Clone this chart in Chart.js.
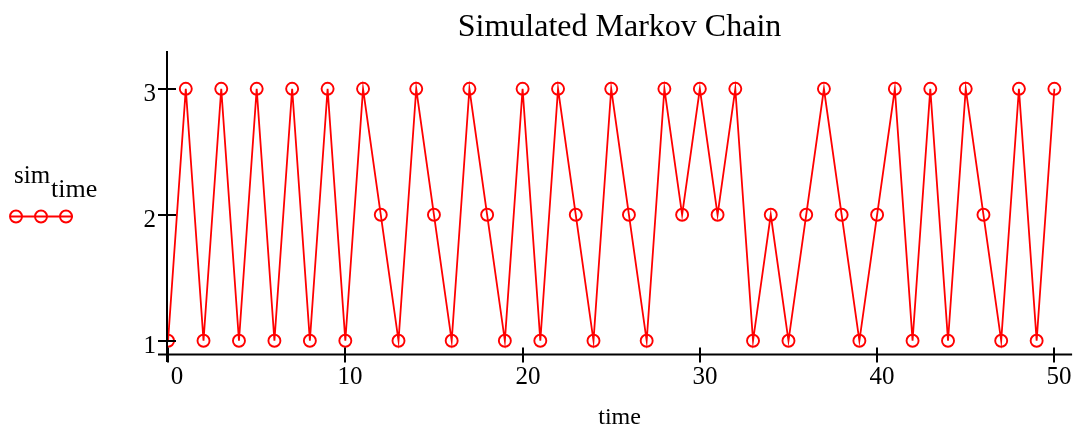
<!DOCTYPE html>
<html>
<head>
<meta charset="utf-8">
<script src="https://cdn.jsdelivr.net/npm/chart.js@4/dist/chart.umd.min.js"></script>
<style>
html,body{margin:0;padding:0;background:#fff;}
#wrap{width:1080px;height:430px;}
</style>
</head>
<body>
<div id="wrap"><canvas id="c" width="1080" height="430"></canvas></div>
<script>
const timeSteps = [0,1,2,3,4,5,6,7,8,9,10,11,12,13,14,15,16,17,18,19,20,21,22,23,24,25,26,27,28,29,30,31,32,33,34,35,36,37,38,39,40,41,42,43,44,45,46,47,48,49,50];
const simValues = [1,3,1,3,1,3,1,3,1,3,1,3,2,1,3,2,1,3,2,1,3,1,3,2,1,3,2,1,3,2,3,2,3,1,2,1,2,3,2,1,2,3,1,3,1,3,2,1,3,1,3];
const xTicks = [0,10,20,30,40,50];
const yTicks = [1,2,3];
const chartTitle = 'Simulated Markov Chain';
const xTitle = 'time';
const legendMain = 'sim';
const legendSub = 'time';

const FONT = '"Liberation Serif", "Times New Roman", serif';
const RED = '#ff0000';

const points = timeSteps.map((t, i) => ({x: t, y: simValues[i]}));

const decor = {
  id: 'decor',
  afterDraw(chart) {
    const ctx = chart.ctx;
    const ca = chart.chartArea;
    const xs = chart.scales.x, ys = chart.scales.y;
    ctx.save();
    // axes
    ctx.strokeStyle = '#000';
    ctx.lineWidth = 2;
    const x0 = Math.round(ca.left) ;
    const yb = Math.round(ca.bottom) + 0.5;
    ctx.beginPath();
    ctx.moveTo(x0, ca.top);
    ctx.lineTo(x0, ca.bottom + 8);
    ctx.moveTo(ca.left - 9, yb);
    ctx.lineTo(ca.right, yb);
    ctx.stroke();
    // y ticks
    ctx.fillStyle = '#000';
    ctx.font = '25px ' + FONT;
    ctx.textAlign = 'right';
    ctx.textBaseline = 'alphabetic';
    yTicks.forEach(v => {
      const py = Math.round(ys.getPixelForValue(v));
      ctx.beginPath();
      ctx.moveTo(x0 - 9, py);
      ctx.lineTo(x0 + 9, py);
      ctx.stroke();
      ctx.fillText(String(v), x0 - 11, py + 12);
    });
    // x ticks
    ctx.textAlign = 'center';
    xTicks.forEach(v => {
      const px = Math.round(xs.getPixelForValue(v));
      ctx.beginPath();
      ctx.moveTo(px, yb - 7);
      ctx.lineTo(px, yb + 8);
      ctx.stroke();
      ctx.fillText(String(v), px + 5 + (v === 0 ? 4 : 0), yb + 29);
    });
    // axis title
    ctx.font = '24px ' + FONT;
    ctx.fillText(xTitle, (ca.left + ca.right) / 2, 424);
    // chart title
    ctx.font = '32px ' + FONT;
    ctx.fillText(chartTitle, (ca.left + ca.right) / 2, 36);
    // legend
    ctx.textAlign = 'left';
    ctx.font = '25px ' + FONT;
    ctx.fillText(legendMain, 14, 183);
    const w = ctx.measureText(legendMain).width;
    ctx.font = '26px ' + FONT;
    ctx.fillText(legendSub, 14 + w + 1, 197);
    const ds = chart.data.datasets[0];
    ctx.strokeStyle = ds.borderColor;
    ctx.lineWidth = ds.borderWidth;
    ctx.beginPath();
    ctx.moveTo(10, 216.5);
    ctx.lineTo(73, 216.5);
    ctx.stroke();
    ctx.lineWidth = ds.pointBorderWidth;
    [16, 41, 66].forEach(cx => {
      ctx.beginPath();
      ctx.arc(cx, 216.5, ds.pointRadius, 0, Math.PI * 2);
      ctx.stroke();
    });
    ctx.restore();
  }
};

new Chart(document.getElementById('c'), {
  type: 'line',
  data: {
    datasets: [{
      label: 'sim_time',
      data: points,
      borderColor: RED,
      borderWidth: 1.8,
      pointRadius: 6,
      pointBorderWidth: 1.9,
      pointBorderColor: RED,
      pointBackgroundColor: 'rgba(255,255,255,0)',
      tension: 0,
      fill: false
    }]
  },
  options: {
    responsive: false,
    animation: false,
    events: [],
    layout: {padding: {left: 167, right: 5, top: 51, bottom: 76}},
    plugins: {legend: {display: false}, title: {display: false}, tooltip: {enabled: false}},
    scales: {
      x: {type: 'linear', min: -0.06, max: 51, display: false},
      y: {type: 'linear', min: 0.895, max: 3.3, display: false}
    }
  },
  plugins: [decor]
});
</script>
</body>
</html>
